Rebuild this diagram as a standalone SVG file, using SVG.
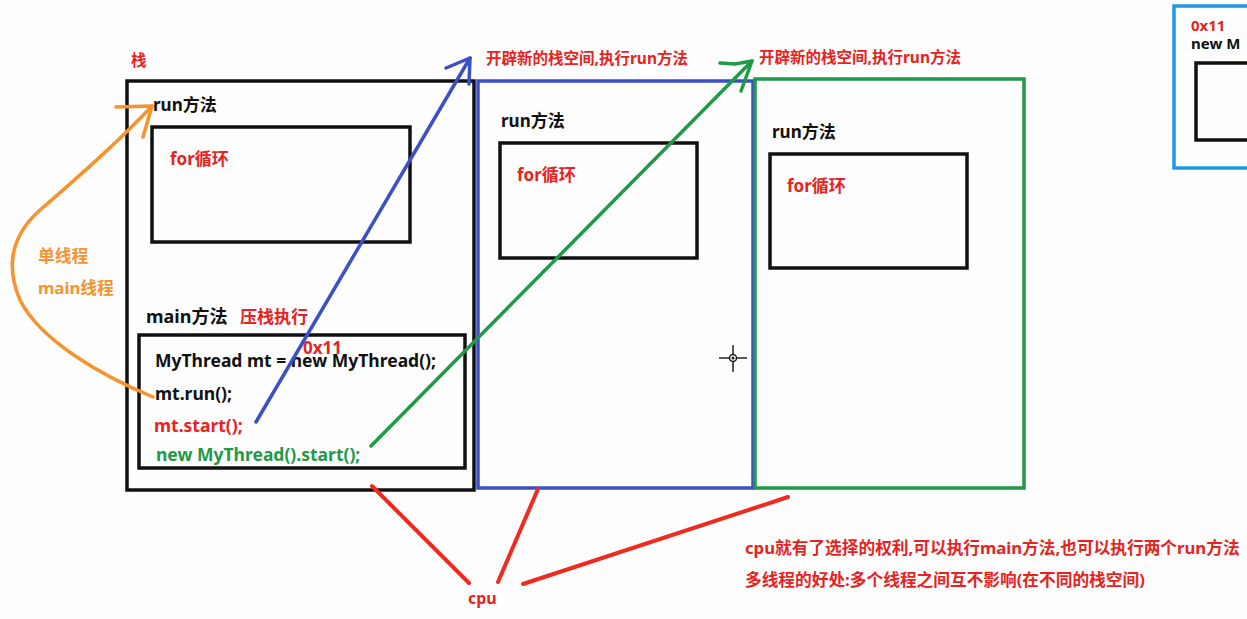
<svg xmlns="http://www.w3.org/2000/svg" width="1247" height="619" viewBox="0 0 1247 619">
<style>
text{font-family:"Noto Sans","Noto Sans CJK SC",sans-serif;font-weight:bold;}
.k{fill:#111;font-size:17px;}
.c{fill:#111;font-size:17.5px;}
.r{fill:#e8231f;font-size:17px;}
.t{fill:#e8231f;font-size:15.5px;}
.n{fill:#e8231f;font-size:16.7px;}
.o{fill:#f7922e;font-size:16.8px;}
.g{fill:#1f9a48;font-size:17.5px;}
.box{fill:none;stroke:#111;stroke-width:3.5;}
.ln{fill:none;stroke-linecap:round;stroke-linejoin:round;}
</style>
<rect width="1247" height="619" fill="#fdfefd"/>

<g id="main-stack">
<text class="t" x="131" y="66">栈</text>
<rect class="box" x="127" y="81" width="347" height="409" stroke-width="4"/>
<text class="k" x="153" y="111">run方法</text>
<rect class="box" x="152" y="127" width="258" height="115"/>
<text class="r" x="170" y="165">for循环</text>
<text class="k" x="146" y="323" style="font-size:18px">main方法</text>
<text class="r" x="240" y="323">压栈执行</text>
<rect class="box" x="139" y="335" width="326" height="133"/>
<text class="c" x="155" y="367">MyThread mt = new MyThread();</text>
<text class="r" x="303" y="354">0x11</text>
<text class="c" x="155" y="400">mt.run();</text>
<text class="r" x="154" y="432" style="font-size:17.5px">mt.start();</text>
<text class="g" x="156" y="461">new MyThread().start();</text>
</g>

<g id="stack-2">
<text class="t" x="486" y="64">开辟新的栈空间,执行run方法</text>
<rect x="478" y="81" width="275" height="407" fill="none" stroke="#3b4fc6" stroke-width="3.5"/>
<text class="k" x="501" y="127">run方法</text>
<rect class="box" x="500" y="143" width="197" height="115"/>
<text class="r" x="517" y="181">for循环</text>
</g>

<g id="stack-3">
<text class="t" x="759" y="63">开辟新的栈空间,执行run方法</text>
<rect x="755" y="79" width="269" height="409" fill="none" stroke="#1f9a48" stroke-width="3.5"/>
<text class="k" x="772" y="138">run方法</text>
<rect class="box" x="770" y="154" width="197" height="114"/>
<text class="r" x="787" y="192">for循环</text>
</g>

<g id="heap">
<rect x="1174" y="6" width="90" height="162" fill="none" stroke="#1e9be0" stroke-width="3.5"/>
<text class="r" x="1191" y="31" style="font-size:15px">0x11</text>
<text class="k" x="1191" y="49" style="font-size:15px">new M</text>
<rect class="box" x="1196" y="63" width="70" height="77"/>
</g>

<g id="notes">
<text class="o" x="38" y="262">单线程</text>
<text class="o" x="38" y="294">main线程</text>
<text class="r" x="468" y="604" style="font-size:16px">cpu</text>
<text class="n" x="745" y="554">cpu就有了选择的权利,可以执行main方法,也可以执行两个run方法</text>
<text class="n" x="745" y="586">多线程的好处:多个线程之间互不影响(在不同的栈空间)</text>
</g>

<g id="connectors">
<path class="ln" d="M153,397 C100,375 40,340 20,300 C5,265 12,235 40,210 C75,180 125,135 152,106" stroke="#f7922e" stroke-width="3.5"/>
<path class="ln" d="M116,107 L152,106 L143,137" stroke="#f7922e" stroke-width="3.5"/>
<path class="ln" d="M256,422 L470,58" stroke="#3b4fc6" stroke-width="3.5"/>
<path class="ln" d="M446,68 L470,58 L469,84" stroke="#3b4fc6" stroke-width="3.5"/>
<path class="ln" d="M371,446 L752,61" stroke="#1f9a48" stroke-width="3.5"/>
<path class="ln" d="M720,63 L735,64 L752,61 L741,91" stroke="#1f9a48" stroke-width="3.5"/>
<path class="ln" d="M372,486 L469,583" stroke="#ef2a1f" stroke-width="4"/>
<path class="ln" d="M538,489 L498,582" stroke="#ef2a1f" stroke-width="4"/>
<path class="ln" d="M788,497 L523,584" stroke="#ef2a1f" stroke-width="4"/>
</g>

<g id="cursor" stroke="#222" stroke-width="1.5" fill="none">
<path d="M733,345 V354 M733,362 V372 M719,358 H729 M737,358 H747"/>
<circle cx="733" cy="358" r="3.5" fill="#fff"/>
<circle cx="733" cy="358" r="0.8" fill="#222"/>
</g>
</svg>
